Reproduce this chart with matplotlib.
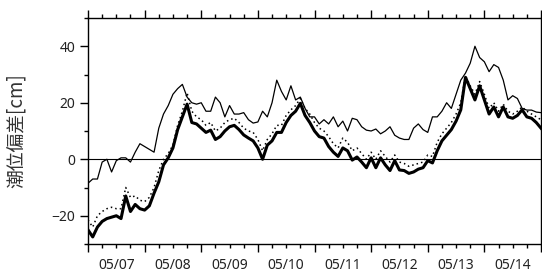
import matplotlib
matplotlib.use("Agg")
import matplotlib.pyplot as plt
import matplotlib.dates as mdates
from matplotlib.ticker import FuncFormatter, NullFormatter, MultipleLocator
import pandas as pd

plt.rcParams['font.family'] = ['Noto Sans', 'Noto Sans CJK JP', 'DejaVu Sans']

# 2-hourly values from 05/07 00:00 to 05/15 00:00
times = pd.date_range("2019-05-07 00:00", "2019-05-15 00:00", freq="2h")

observed = [
    -8.5, -7, -7, -1, 0, -4.5, -0.5, 0.5, 0.5, -1, 2.5, 5.5, 4.5, 3.5, 2.5,
    11, 16, 19, 23, 25, 26.5, 22, 20, 19.5, 20, 17, 17, 22, 20, 15,
    19, 16, 16, 16.5, 14, 12.8, 13.2, 17, 15, 20, 28, 24, 21, 26, 21,
    22, 18, 15, 15, 12.5, 14, 12.5, 15, 11.5, 13.5, 10, 14.5, 14, 11.5, 10.3,
    10, 10.7, 9, 10, 11.5, 8.5, 7.5, 7, 7, 11, 12.5, 10.5, 9.5, 15, 15,
    17, 20, 18, 23, 28, 30.5, 34, 40, 36, 34.5, 31, 33.5, 32.5, 28, 21,
    22.5, 21.5, 18, 17.4, 17.4, 16.7, 16.5,
]

model_a = [
    -21.5, -24, -20, -18.5, -17.5, -17, -17.5, -17.5, -10, -13.5, -13, -14.5, -15, -13.5, -10,
    -4, 0, 2, 5, 12, 17, 23.5, 17, 15, 14, 12, 13, 10, 11, 13,
    14, 14.5, 13, 11, 10, 9.5, 7, 3, 7, 9, 12, 12, 15.5, 17.5, 19,
    21.5, 18, 16, 13, 11, 10, 8, 5.5, 4, 7.5, 6, 3, 4, 2, 0,
    2.5, 0, 3, 1, -1, 1.5, -1, -1.5, -2.5, -2, -1.5, -1, 1.5, 1, 6,
    9, 11, 13, 16, 20, 29.5, 26, 23, 27.5, 23, 18, 20, 17, 19.5, 17,
    16, 17, 18.5, 17, 16, 15, 14,
]

model_b = [
    -25, -27.5, -24, -22, -21, -20.5, -20, -21, -13, -18.5, -16, -17.5, -18, -16.5, -12,
    -8, -2, 0.5, 4, 10.5, 15, 19.5, 13, 12.5, 11, 9.5, 10.3, 7, 8, 10,
    11.5, 12, 10.5, 8.6, 7.5, 6.5, 4, 0, 5, 6.5, 9.5, 9.5, 13, 15.5, 17,
    19.8, 15.5, 13, 10, 8, 7.5, 4.5, 2.5, 1, 4, 3, -0.3, 0.8, -1, -3,
    0.5, -3, 0.5, -2, -4, -0.5, -3.8, -4, -5, -4.5, -3.5, -3, -0.5, -1.3, 3,
    6.5, 8.5, 10.5, 13.5, 17.5, 29, 25, 21, 26, 21, 16, 18.5, 15, 18.5, 15,
    14.5, 15.5, 17.5, 15, 14.5, 13, 11,
]

fig = plt.figure(figsize=(5.42, 2.74), dpi=100)
ax = fig.add_axes([88 / 542, 1 - 244 / 274, 453 / 542, 226 / 274])

ax.axhline(0, color="black", lw=0.8, zorder=1)
ax.plot(times, observed, color="black", lw=0.9)
ax.plot(times, model_a, color="black", lw=1.1, linestyle=(0, (1, 2)))
ax.plot(times, model_b, color="black", lw=2.2)

ax.set_xlim(times[0], times[-1])
ax.set_ylim(-30, 50)

ax.xaxis.set_major_locator(mdates.DayLocator())
ax.xaxis.set_major_formatter(NullFormatter())
ax.xaxis.set_minor_locator(mdates.HourLocator(byhour=[6, 12, 18]))


def day_label(x, pos):
    d = mdates.num2date(x)
    return d.strftime("%m/%d") if d.hour == 12 else ""


ax.xaxis.set_minor_formatter(FuncFormatter(day_label))
ax.yaxis.set_major_locator(MultipleLocator(20))
ax.yaxis.set_minor_locator(MultipleLocator(10))

ax.tick_params(axis="x", which="both", direction="out", top=True, bottom=True,
               labeltop=False, colors="black", labelcolor="#222222")
ax.tick_params(axis="x", which="major", length=6, width=1)
ax.tick_params(axis="x", which="minor", length=3.2, width=1, labelsize=10, pad=7)
ax.tick_params(axis="y", which="both", direction="out", right=False,
               colors="black", labelcolor="#222222")
ax.tick_params(axis="y", which="major", length=6, width=1, labelsize=10, pad=3)
ax.tick_params(axis="y", which="minor", length=3.2, width=1)

for s in ax.spines.values():
    s.set_linewidth(1)

fig.text(16 / 542, 1 - 131 / 274, "潮位偏差[cm]", rotation=90, fontsize=13.5,
         color="#333333", ha="center", va="center",
         family=['Noto Sans CJK JP', 'DejaVu Sans'])

fig.savefig("out.png", dpi=100)
